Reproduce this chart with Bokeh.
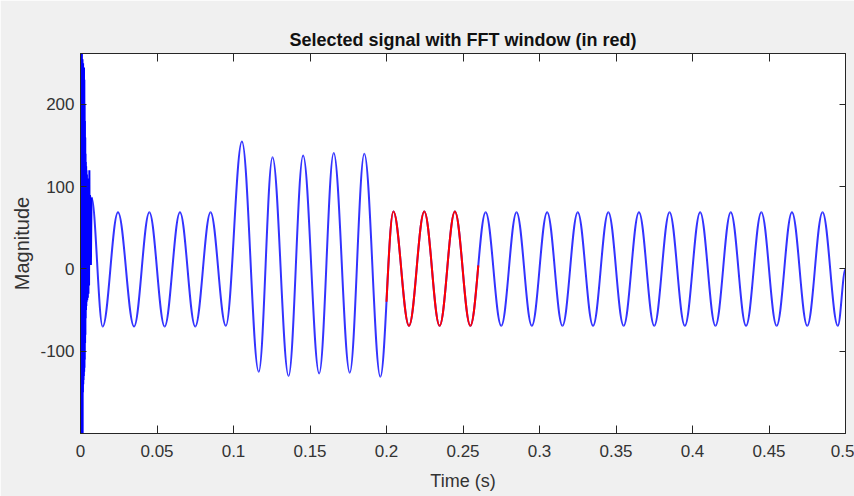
import numpy as np
from bokeh.plotting import figure
from bokeh.models import Range1d, LinearAxis, FixedTicker, CustomJSTickFormatter
from bokeh.embed import file_html
from bokeh.resources import INLINE

# ---------------- data ----------------
# start-up transient (time s, magnitude)
tr_t = [0.0000, 0.0001, 0.0002, 0.0003, 0.0004, 0.0005, 0.0006, 0.0007, 0.0008, 0.0009,
        0.0010, 0.0011, 0.0012, 0.0013, 0.0014, 0.0015, 0.0016, 0.0017, 0.0018, 0.0019,
        0.0020, 0.0021, 0.0022, 0.0023, 0.0024, 0.0025, 0.0026, 0.0027, 0.0028, 0.0029,
        0.0030, 0.0031, 0.0032, 0.0033, 0.0034, 0.0035, 0.0036, 0.0037, 0.0038, 0.0039,
        0.0040, 0.0042, 0.0044, 0.0046, 0.0048, 0.0050, 0.0052, 0.0054, 0.0056, 0.0058,
        0.0060, 0.0062, 0.0064, 0.0066, 0.0068, 0.0072]
tr_v = [0, 263, -200, 250, -190, 263, -200, 240, -180, 263,
        -200, 250, -170, 255, -200, 245, -150, 250, -140, 245,
        -135, 240, -130, 245, -125, 230, -120, 200, -110, 180,
        -90, 160, -80, 140, -60, 130, -50, 125, -45, 120,
        -40, 115, -38, 110, -35, 105, -30, 100, -20, 120,
        15, 90, 10, 85, 5, 87]

# successive peaks / troughs of the waveform (time s, magnitude)
ext_t = [0.0072, 0.0145, 0.0245, 0.035, 0.045, 0.055, 0.065, 0.075, 0.085, 0.095,
         0.1055, 0.1165, 0.1255, 0.136, 0.1455, 0.156, 0.1655, 0.176, 0.1855, 0.196,
         0.2045, 0.2147, 0.2247, 0.2347, 0.2447, 0.2548, 0.2648, 0.275, 0.285, 0.295,
         0.305, 0.315, 0.325, 0.335, 0.345, 0.355, 0.365, 0.375, 0.385, 0.395,
         0.405, 0.415, 0.425, 0.435, 0.445, 0.455, 0.465, 0.475, 0.485, 0.495, 0.5]
ext_v = [87, -70, 69, -70, 69, -70, 69, -70, 69, -69,
         155, -125, 136, -130, 138, -127, 141, -126, 140, -131,
         70, -69, 70, -69, 70, -69, 69, -69, 69, -69,
         69, -69, 69, -69, 69, -69, 69, -69, 69, -69,
         69, -69, 69, -69, 69, -69, 69, -69, 69, -69, 0]

# FFT window (in red)
win_start, win_end = 0.2, 0.26

x_ticks = [0, 0.05, 0.1, 0.15, 0.2, 0.25, 0.3, 0.35, 0.4, 0.45, 0.5]
y_ticks = [-100, 0, 100, 200]

# ---------------- curve construction (cubic Béziers between extrema) ----------------
K = 0.3634


def seg(t0, v0, t1, v1):
    d = t1 - t0
    return [(t0, v0), (t0 + K * d, v0), (t1 - K * d, v1), (t1, v1)]


def lerp(a, b, s):
    return (a[0] + (b[0] - a[0]) * s, a[1] + (b[1] - a[1]) * s)


def split(P, s):
    a, b, c = lerp(P[0], P[1], s), lerp(P[1], P[2], s), lerp(P[2], P[3], s)
    d, e = lerp(a, b, s), lerp(b, c, s)
    f = lerp(d, e, s)
    return [P[0], a, d, f], [f, e, c, P[3]]


def s_at_x(P, x):
    lo, hi = 0.0, 1.0
    for _ in range(60):
        m = (lo + hi) / 2
        if split(P, m)[0][3][0] < x:
            lo = m
        else:
            hi = m
    return (lo + hi) / 2


segs = [seg(ext_t[i], ext_v[i], ext_t[i + 1], ext_v[i + 1]) for i in range(len(ext_t) - 1)]

red = []
for P in segs:
    t0, t1 = P[0][0], P[3][0]
    if t1 <= win_start or t0 >= win_end:
        continue
    Q = P
    if t0 < win_start:
        Q = split(Q, s_at_x(Q, win_start))[1]
    if Q[3][0] > win_end:
        Q = split(Q, s_at_x(Q, win_end))[0]
    red.append(Q)


def bez_cols(S):
    return dict(x0=[q[0][0] for q in S], y0=[q[0][1] for q in S],
                cx0=[q[1][0] for q in S], cy0=[q[1][1] for q in S],
                cx1=[q[2][0] for q in S], cy1=[q[2][1] for q in S],
                x1=[q[3][0] for q in S], y1=[q[3][1] for q in S])


# ---------------- figure ----------------
FONT = "Liberation Sans"
DARK = "#262626"

p = figure(width=854, height=496, output_backend="svg", toolbar_location=None,
           x_range=Range1d(0, 0.5), y_range=Range1d(-200, 262),
           min_border_left=80, min_border_right=9, min_border_top=53, min_border_bottom=63,
           title="Selected signal with FFT window (in red)")

p.background_fill_color = "white"
p.border_fill_color = "#f0f0f0"
p.outline_line_color = DARK
p.outline_line_width = 1
p.xgrid.visible = False
p.ygrid.visible = False

p.title.align = "center"
p.title.text_font = FONT
p.title.text_font_size = "18px"
p.title.text_font_style = "bold"
p.title.text_color = "#111111"
p.title.standoff = 7

fmt = CustomJSTickFormatter(code="return tick.toString();")
blank = CustomJSTickFormatter(code="return '';")

xa = p.xaxis[0]
xa.ticker = FixedTicker(ticks=x_ticks)
xa.formatter = fmt
xa.axis_label = "Time (s)"
ya = p.yaxis[0]
ya.ticker = FixedTicker(ticks=y_ticks)
ya.formatter = fmt
ya.axis_label = "Magnitude"

for ax in (xa, ya):
    ax.major_tick_out = 0
    ax.minor_tick_line_color = None
    ax.axis_line_color = DARK
    ax.major_tick_line_color = DARK
    ax.major_label_text_font = FONT
    ax.major_label_text_font_size = "17px"
    ax.major_label_text_color = "#333333"
    ax.axis_label_text_color = "#333333"
    ax.axis_label_text_font = FONT
    ax.axis_label_text_font_style = "normal"

xa.major_tick_in = 8
xa.major_label_standoff = 11
xa.axis_label_text_font_size = "18px"
xa.axis_label_standoff = 11

ya.major_tick_in = 6
ya.major_label_standoff = 6
ya.axis_label_text_font_size = "20px"
ya.axis_label_standoff = 4

top = LinearAxis(ticker=FixedTicker(ticks=x_ticks), formatter=blank,
                 major_tick_in=8, major_tick_out=0, minor_tick_line_color=None,
                 axis_line_color=DARK, major_tick_line_color=DARK,
                 major_label_standoff=0, major_label_text_font_size="1px")
right = LinearAxis(ticker=FixedTicker(ticks=y_ticks), formatter=blank,
                   major_tick_in=6, major_tick_out=0, minor_tick_line_color=None,
                   axis_line_color=DARK, major_tick_line_color=DARK,
                   major_label_standoff=0, major_label_text_font_size="1px")
p.add_layout(top, "above")
p.add_layout(right, "right")

BLUE = "#0000ff"
RED = "#ff0000"
p.line(tr_t, tr_v, line_color=BLUE, line_width=2.0)
p.bezier(**bez_cols(segs), line_color=BLUE, line_width=2.0, line_alpha=0.8)
p.bezier(**bez_cols(red), line_color=RED, line_width=2.0, line_alpha=1.0)

open("out.html", "w").write(file_html(p, INLINE))
